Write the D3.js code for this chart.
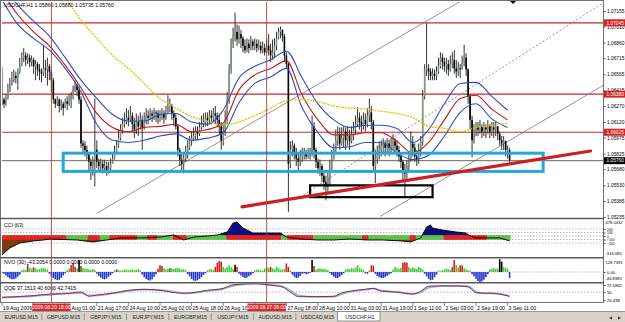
<!DOCTYPE html>
<html>
<head>
<meta charset="utf-8">
<script src="https://cdn.jsdelivr.net/npm/d3@7"></script>
<style>
  body { margin: 0; background: #fff; }
  svg { display: block; }
  text { font-family: "Liberation Sans", Arial, sans-serif; }
</style>
</head>
<body>
<svg id="chart" width="625" height="322"></svg>
<script>
// ---- price bars (H1, USDCHF), index 0 = 19 Aug 17:00 ----
const firstOpen = 1.0630;
const closes = [
  1.0633,1.0629,1.0634,1.0642,1.0648,1.0651,1.0655,1.0653,1.0659,1.0664,
  1.0672,1.0674,1.0670,1.0672,1.0668,1.0670,1.0664,1.0666,1.0661,1.0659,
  1.0657,1.0662,1.0661,1.0664,1.0659,1.0651,1.0633,1.0629,1.0633,1.0627,
  1.0629,1.0625,1.0631,1.0629,1.0633,1.0636,1.0642,1.0646,1.0642,1.0633,
  1.0592,1.0590,1.0586,1.0582,1.0575,1.0571,1.0577,1.0586,1.0575,1.0571,
  1.0573,1.0569,1.0571,1.0567,1.0569,1.0573,1.0578,1.0584,1.0590,1.0597,
  1.0605,1.0610,1.0612,1.0616,1.0614,1.0618,1.0610,1.0605,1.0612,1.0608,
  1.0614,1.0607,1.0612,1.0618,1.0616,1.0620,1.0618,1.0621,1.0620,1.0616,
  1.0618,1.0620,1.0616,1.0621,1.0625,1.0627,1.0620,1.0616,1.0608,1.0586,
  1.0577,1.0573,1.0578,1.0582,1.0588,1.0594,1.0597,1.0599,1.0603,1.0601,
  1.0607,1.0610,1.0612,1.0616,1.0614,1.0618,1.0616,1.0620,1.0618,1.0614,
  1.0608,1.0595,1.0603,1.0614,1.0633,1.0661,1.0685,1.0692,1.0696,1.0689,
  1.0694,1.0690,1.0683,1.0679,1.0685,1.0681,1.0687,1.0683,1.0685,1.0681,
  1.0683,1.0679,1.0681,1.0677,1.0683,1.0679,1.0674,1.0677,1.0683,1.0690,
  1.0696,1.0698,1.0692,1.0674,1.0666,1.0573,1.0586,1.0590,1.0584,1.0578,
  1.0575,1.0580,1.0582,1.0584,1.0580,1.0584,1.0582,1.0608,1.0586,1.0575,
  1.0569,1.0571,1.0562,1.0556,1.0552,1.0560,1.0569,1.0578,1.0586,1.0595,
  1.0601,1.0592,1.0597,1.0603,1.0595,1.0599,1.0594,1.0601,1.0605,1.0610,
  1.0616,1.0612,1.0608,1.0614,1.0610,1.0618,1.0621,1.0612,1.0571,1.0578,
  1.0582,1.0586,1.0590,1.0592,1.0588,1.0592,1.0588,1.0590,1.0594,1.0590,
  1.0586,1.0580,1.0575,1.0567,1.0564,1.0571,1.0577,1.0592,1.0588,1.0580,
  1.0577,1.0586,1.0594,1.0636,1.0661,1.0662,1.0659,1.0655,1.0657,1.0655,
  1.0659,1.0664,1.0672,1.0668,1.0664,1.0666,1.0661,1.0666,1.0670,1.0662,
  1.0659,1.0662,1.0661,1.0668,1.0672,1.0661,1.0636,1.0614,1.0595,1.0603,
  1.0607,1.0605,1.0608,1.0603,1.0607,1.0605,1.0608,1.0603,1.0607,1.0605,
  1.0608,1.0601,1.0595,1.0592,1.0594,1.0586,1.0586,1.0576
];
const highs = [
  1.0663,1.0635,1.0638,1.0648,1.0653,1.0659,1.0661,1.0659,1.0662,1.0672,
  1.0677,1.0681,1.0677,1.0676,1.0675,1.0674,1.0672,1.0670,1.0668,1.0666,
  1.0662,1.0684,1.0670,1.0672,1.0666,1.0661,1.0653,1.0634,1.0636,1.0634,
  1.0633,1.0631,1.0634,1.0636,1.0638,1.0640,1.0646,1.0651,1.0648,1.0646,
  1.0636,1.0595,1.0594,1.0590,1.0584,1.0578,1.0580,1.0634,1.0595,1.0578,
  1.0578,1.0577,1.0577,1.0575,1.0575,1.0578,1.0584,1.0590,1.0595,1.0605,
  1.0610,1.0616,1.0621,1.0625,1.0623,1.0627,1.0621,1.0616,1.0620,1.0618,
  1.0621,1.0618,1.0621,1.0625,1.0623,1.0625,1.0623,1.0625,1.0623,1.0623,
  1.0623,1.0625,1.0623,1.0627,1.0637,1.0634,1.0629,1.0623,1.0620,1.0610,
  1.0588,1.0582,1.0584,1.0590,1.0595,1.0599,1.0603,1.0607,1.0608,1.0608,
  1.0612,1.0618,1.0620,1.0621,1.0621,1.0623,1.0623,1.0625,1.0627,1.0621,
  1.0620,1.0612,1.0610,1.0623,1.0640,1.0666,1.0690,1.0700,1.0714,1.0703,
  1.0702,1.0698,1.0692,1.0689,1.0690,1.0689,1.0692,1.0689,1.0690,1.0689,
  1.0689,1.0687,1.0687,1.0685,1.0689,1.0694,1.0685,1.0689,1.0690,1.0696,
  1.0700,1.0701,1.0698,1.0694,1.0677,1.0668,1.0594,1.0595,1.0592,1.0588,
  1.0584,1.0586,1.0588,1.0588,1.0586,1.0588,1.0588,1.0618,1.0612,1.0588,
  1.0578,1.0577,1.0573,1.0566,1.0562,1.0566,1.0577,1.0586,1.0592,1.0605,
  1.0608,1.0607,1.0607,1.0608,1.0607,1.0608,1.0605,1.0608,1.0612,1.0618,
  1.0626,1.0621,1.0618,1.0621,1.0620,1.0625,1.0634,1.0627,1.0614,1.0586,
  1.0590,1.0594,1.0595,1.0597,1.0595,1.0597,1.0595,1.0597,1.0601,1.0597,
  1.0595,1.0590,1.0584,1.0577,1.0573,1.0577,1.0584,1.0603,1.0599,1.0592,
  1.0586,1.0592,1.0599,1.0642,1.0666,1.0704,1.0666,1.0662,1.0662,1.0661,
  1.0664,1.0672,1.0677,1.0676,1.0672,1.0672,1.0670,1.0674,1.0677,1.0679,
  1.0670,1.0668,1.0666,1.0674,1.0684,1.0676,1.0662,1.0638,1.0618,1.0610,
  1.0612,1.0612,1.0614,1.0610,1.0612,1.0610,1.0614,1.0610,1.0612,1.0612,
  1.0612,1.0608,1.0603,1.0599,1.0599,1.0595,1.0590,1.0588
];
const lows = [
  1.0628,1.0625,1.0627,1.0633,1.0640,1.0646,1.0649,1.0648,1.0642,1.0657,
  1.0664,1.0668,1.0664,1.0666,1.0663,1.0664,1.0657,1.0651,1.0655,1.0651,
  1.0649,1.0655,1.0653,1.0646,1.0651,1.0640,1.0629,1.0625,1.0627,1.0621,
  1.0623,1.0618,1.0625,1.0623,1.0627,1.0625,1.0633,1.0640,1.0636,1.0629,
  1.0588,1.0584,1.0580,1.0577,1.0566,1.0558,1.0562,1.0552,1.0569,1.0567,
  1.0567,1.0564,1.0566,1.0562,1.0564,1.0567,1.0573,1.0577,1.0584,1.0588,
  1.0595,1.0601,1.0607,1.0610,1.0608,1.0612,1.0603,1.0597,1.0601,1.0599,
  1.0605,1.0586,1.0605,1.0610,1.0610,1.0614,1.0612,1.0614,1.0612,1.0610,
  1.0612,1.0614,1.0610,1.0614,1.0620,1.0621,1.0614,1.0608,1.0605,1.0580,
  1.0571,1.0567,1.0564,1.0575,1.0578,1.0586,1.0590,1.0594,1.0595,1.0595,
  1.0599,1.0605,1.0607,1.0608,1.0608,1.0610,1.0610,1.0612,1.0610,1.0607,
  1.0601,1.0586,1.0590,1.0599,1.0610,1.0629,1.0657,1.0681,1.0687,1.0683,
  1.0685,1.0681,1.0677,1.0676,1.0677,1.0676,1.0679,1.0679,1.0679,1.0677,
  1.0679,1.0676,1.0676,1.0674,1.0676,1.0674,1.0668,1.0670,1.0672,1.0679,
  1.0689,1.0690,1.0687,1.0668,1.0662,1.0528,1.0569,1.0580,1.0577,1.0571,
  1.0566,1.0571,1.0575,1.0577,1.0577,1.0578,1.0577,1.0580,1.0578,1.0569,
  1.0564,1.0562,1.0556,1.0549,1.0539,1.0547,1.0552,1.0567,1.0577,1.0584,
  1.0590,1.0586,1.0590,1.0588,1.0586,1.0590,1.0586,1.0592,1.0595,1.0601,
  1.0608,1.0605,1.0603,1.0605,1.0603,1.0607,1.0612,1.0605,1.0566,1.0555,
  1.0573,1.0577,1.0580,1.0584,1.0580,1.0584,1.0580,1.0582,1.0586,1.0584,
  1.0580,1.0575,1.0569,1.0558,1.0542,1.0558,1.0567,1.0575,1.0580,1.0575,
  1.0571,1.0573,1.0580,1.0590,1.0633,1.0655,1.0651,1.0651,1.0651,1.0651,
  1.0651,1.0657,1.0662,1.0661,1.0659,1.0657,1.0655,1.0659,1.0662,1.0657,
  1.0653,1.0655,1.0653,1.0661,1.0664,1.0655,1.0629,1.0605,1.0579,1.0592,
  1.0599,1.0599,1.0601,1.0597,1.0599,1.0597,1.0601,1.0597,1.0599,1.0597,
  1.0599,1.0595,1.0590,1.0586,1.0586,1.0580,1.0578,1.05735
];

// ---- moving averages, sampled every 8 bars ----
const maIdx = [0,8,16,24,32,40,48,56,64,72,80,88,96,104,112,120,128,136,144,152,160,168,176,184,192,200,208,216,224,232,240,248,256];
const maUpper = [1.0740,1.0721,1.0706,1.0692,1.0672,1.0651,1.0634,1.0619,1.0613,1.0613,1.0619,1.0620,1.0612,1.0610,1.0623,1.0653,1.0664,1.0670,1.0678,1.0653,1.0629,1.0614,1.0607,1.0609,1.0609,1.0606,1.0593,1.0605,1.0629,1.0648,1.0649,1.0636,1.0623];
const maMid = [1.0733,1.0712,1.0696,1.0683,1.0665,1.0644,1.0620,1.0607,1.0603,1.0607,1.0608,1.0610,1.0603,1.0605,1.0611,1.0642,1.0656,1.0662,1.0669,1.0637,1.0614,1.0600,1.0600,1.0602,1.0602,1.0594,1.0583,1.0593,1.0614,1.0634,1.0637,1.0624,1.0614];
const maLower = [1.0726,1.0703,1.0690,1.0679,1.0662,1.0640,1.0610,1.0595,1.0593,1.0595,1.0599,1.0601,1.0595,1.0597,1.0602,1.0630,1.0648,1.0654,1.0662,1.0625,1.0602,1.0588,1.0589,1.0593,1.0593,1.0583,1.0577,1.0581,1.0599,1.0621,1.0629,1.0615,1.0607];
const maSlow = [null,null,null,null,1.0728,1.0707,1.0690,1.0674,1.0662,1.0648,1.0634,1.0625,1.0617,1.0613,1.0609,1.0612,1.0618,1.0625,1.0632,1.0633,1.0631,1.0627,1.0625,1.0624,1.0622,1.0620,1.0616,1.0608,1.0606,1.0603,1.0607,1.0609,1.0611];

// ---- price axis, levels and drawn objects ----
const priceTicks = [1.07155,1.07010,1.06860,1.06715,1.06565,1.06415,1.06270,1.06120,1.05975,1.05825,1.05680,1.05530,1.05385,1.05235];
const redLevels = [1.07045, 1.06380, 1.06025];
const lastPrice = 1.05760;
const vLines = [25, 134];
const vLineLabels = ["2009.08.20 18:00", "2009.08.27 06:00"];
const cyanBox = { i1: 31, i2: 274, p1: 1.0583, p2: 1.0566 };
const blackBox = { i1: 156, i2: 218, p1: 1.0553, p2: 1.0542 };
const redTrend = { i1: 121.5, p1: 1.0533, i2: 298, p2: 1.0585 };
const channelLines = [
  { i1: 48, p1: 1.0527, i2: 233.5, p2: 1.0726, dash: null },
  { i1: 191.4, p1: 1.0524, i2: 304.3, p2: 1.0646, dash: null },
  { i1: 151, p1: 1.0542, i2: 304.3, p2: 1.0723, dash: "2,2" }
];

// ---- time axis: only the parts not covered by the red date boxes are shown ----
const timeIdx = [0,16,32,48,64,80,96,112,128,144,160,176,192,208,224,240,256];
const timeLabels = ["19 Aug 2009","","Aug 01:00","21 Aug 17:00","24 Aug 10:00","25 Aug 02:00","25 Aug 18:00","26 Aug 10","","27 Aug 18:00","28 Aug 10:00","31 Aug 03:00","31 Aug 19:00","1 Sep 11:00","2 Sep 03:00","2 Sep 19:00","3 Sep 11:00"];

// ---- CCI (63) ----
const cciIdx = [0,4,9,16,21,24,38,46,53,60,70,80,87,92,97,104,109,114,117,119,122,127,134,141,144,151,160,168,176,185,193,202,207,212,215,217,218,223,230,235,237,240,247,252,257];
const cciVal = [-540,-340,-200,-140,-115,-85,-115,-170,-115,-55,-55,-30,30,-115,-30,0,30,115,370,400,230,85,85,85,-30,-85,-115,-115,-85,-115,-115,-140,-170,-55,255,315,230,170,115,85,0,-55,-55,-55,-140];
const cciLevels = [200, 100, 0, -100, -200];
const cciRange = ["478.5432", "-316.085"];
const stripStart = [0,33,44,50,55,69,74,79,87,94,114,142,145,158,183,186,207,210,224,246];
const stripColor = ["r","g","r","g","r","g","r","g","r","g","r","g","r","g","r","g","r","g","r","g"];

// ---- NVO (30) histogram, one value per bar ----
const nvo = [
  -10,-20,-40,-60,-75,-85,-85,-75,-55,-30, 20,30,25,95,50,40,55,45,30,35,
  45,50,40,30,-20,-50,-70,-85,-95,-90, -70,-40,-15,25,40,80,105,60,45,140,
  70,45,35,40,30,25,35,20,-20,-45, -65,-80,-85,-75,-55,-35,-15,20,30,25,
  15,20,30,25,20,25,30,20,25,35, 20,-30,-60,-80,-95,-100,-85,-55,-25,40,
  80,70,45,30,35,45,40,35,45,50, 40,30,35,20,-25,-50,-80,-100,-105,-95,
  -80,-60,-35,-15,20,30,35,25,60,110, 130,120,60,40,60,80,55,35,85,60,
  -20,-40,-60,-70,-65,-50,-35,-15,20,25, 30,20,15,40,55,50,60,45,35,60,
  45,30,25,40,100,60,20,-30,-55,-70, -65,-45,-20,-15,-25,-20,-10,140,70,30,
  40,45,35,40,30,25,-15,-35,-55,-70, -70,-55,-35,-15,30,40,35,45,40,55,
  80,50,35,25,-15,-20,20,80,75,-20, -45,-60,-70,-70,-60,-45,-30,-15,30,60,
  45,35,50,110,115,110,60,40,55,45, 35,60,45,30,-20,-50,-80,-95,-90,-60,
  -30,15,10,20,30,40,35,25,60,140, 80,50,80,75,45,30,20,15,-25,-50,
  -80,-105,-117,-110,-90,-60,-25,30,40,45, 35,40,150,120,60,45,35,-70
];
const nvoRed = [13,35,36,58,79,80,108,109,110,111,119,136,144,145,158,187,188,203,204,205,228,229,232,233];
const nvoBrown = [16,37,40,81,85];
const nvoBlack = [39,118,157,252,253];
const nvoRange = ["128.7391", "-46.8385"];

// ---- QQE ----
const qqeIdx = [0,8,16,24,32,40,44,48,56,64,72,80,88,92,96,104,112,116,120,128,136,142,146,150,160,168,172,176,184,188,192,200,208,212,216,224,232,236,240,244,248,252,257];
const qqeRed = [34,36,39,44,45,51,37,41,47,56,59,56,48,47,48,56,62,72,75,77,72,66,50,36,36,37,48,53,59,62,53,50,44,53,69,70,69,67,48,47,47,44,37];
const qqeBlue = [33,35,38,42,46,47,40,40,46,54,58,57,50,46,47,54,60,68,73,76,73,68,55,40,35,36,44,51,58,61,56,51,45,50,64,70,70,68,52,46,46,45,38];
const qqeLabels = [72.5862, 50, 25.498];

const tabNames = ["EURUSD,M15","GBPUSD,M15","GBPJPY,M15","EURJPY,M15","EURGBP,M15","USDJPY,M15","AUDUSD,M15","USDCAD,M15","USDCHF,H1"];

// ================= drawing =================
let svg = d3.select("#chart");
let font = "Liberation Sans, Arial, sans-serif";

let x = d3.scaleLinear().domain([0, 256]).range([2, 507.6]);
let yMain = d3.scaleLinear().domain([1.05235, 1.07155]).range([217, 11]);
let yCci = d3.scaleLinear().domain([-200, 200]).range([243, 229]);
let yNvo = d3.scaleLinear().domain([0, 128.7391]).range([272, 261]);
let yQqe = d3.scaleLinear().domain([25.498, 72.5862]).range([300, 285]);

let defs = svg.append("defs");
let addClip = (id, y0, y1) => {
  defs.append("clipPath").attr("id", id)
      .append("rect").attr("x", 2).attr("y", y0)
      .attr("width", 601).attr("height", y1 - y0);
};
addClip("clip-main", 2, 218);
addClip("clip-cci", 219.5, 257);
addClip("clip-cci-pos", 219.5, yCci(0));
addClip("clip-cci-neg", yCci(0), 257);
addClip("clip-nvo", 258.5, 282);
addClip("clip-qqe", 283.5, 302);

svg.append("rect").attr("width", 625).attr("height", 322).attr("fill", "#fff");

// ---------- main panel ----------
let main = svg.append("g").attr("clip-path", "url(#clip-main)");

main.selectAll(".level").data(redLevels).enter().append("line")
    .attr("x1", 2).attr("x2", 603)
    .attr("y1", d => yMain(d)).attr("y2", d => yMain(d))
    .attr("stroke", "#c42a2a").attr("stroke-width", 1.2);

main.selectAll(".chan").data(channelLines).enter().append("line")
    .attr("x1", d => x(d.i1)).attr("y1", d => yMain(d.p1))
    .attr("x2", d => x(d.i2)).attr("y2", d => yMain(d.p2))
    .attr("stroke", "#7a7a7a").attr("stroke-width", 0.8)
    .attr("stroke-dasharray", d => d.dash);

let bars = closes.map((c, i) => ({
  i: i, open: i ? closes[i - 1] : firstOpen, close: c, high: highs[i], low: lows[i]
}));

main.selectAll(".wick").data(bars).enter().append("line")
    .attr("x1", d => x(d.i)).attr("x2", d => x(d.i))
    .attr("y1", d => yMain(Math.max(d.high, d.open, d.close)))
    .attr("y2", d => yMain(Math.min(d.low, d.open, d.close)))
    .attr("stroke", "#1c1c1c").attr("stroke-width", 0.9);

main.selectAll(".body").data(bars).enter().append("rect")
    .attr("x", d => x(d.i) - 0.8).attr("width", 1.6)
    .attr("y", d => yMain(Math.max(d.open, d.close)))
    .attr("height", d => Math.max(0.8, Math.abs(yMain(d.open) - yMain(d.close))))
    .attr("fill", d => d.close >= d.open ? "#7f967f" : "#000");

let maLine = d3.line()
    .defined(d => d[1] !== null)
    .x(d => x(d[0])).y(d => yMain(d[1]))
    .curve(d3.curveMonotoneX);

let drawMa = (values, color, width, dash) => {
  main.append("path")
      .attr("d", maLine(d3.zip(maIdx, values)))
      .attr("fill", "none").attr("stroke", color)
      .attr("stroke-width", width).attr("stroke-dasharray", dash);
};
drawMa(maUpper, "#2f4fc0", 1.1, null);
drawMa(maLower, "#2f4fc0", 1.1, null);
drawMa(maMid, "#c01a1a", 1.1, null);
drawMa(maSlow, "#e0c400", 1.3, "2,1");

main.append("line")
    .attr("x1", 2).attr("x2", 603)
    .attr("y1", yMain(lastPrice)).attr("y2", yMain(lastPrice))
    .attr("stroke", "#444").attr("stroke-width", 0.8);

let drawBox = (box, color, width) => {
  main.append("rect")
      .attr("x", x(box.i1)).attr("y", yMain(box.p1))
      .attr("width", x(box.i2) - x(box.i1))
      .attr("height", yMain(box.p2) - yMain(box.p1))
      .attr("fill", "none").attr("stroke", color).attr("stroke-width", width);
};
drawBox(cyanBox, "#27a6dc", 3);
drawBox(blackBox, "#000", 2.2);

main.append("line")
    .attr("x1", x(redTrend.i1)).attr("y1", yMain(redTrend.p1))
    .attr("x2", x(redTrend.i2)).attr("y2", yMain(redTrend.p2))
    .attr("stroke", "#cc1f24").attr("stroke-width", 3.2).attr("stroke-linecap", "round");

// chart shift marker
svg.append("path").attr("d", "M510,1 L516,1 L513,4 Z").attr("fill", "#000");

svg.append("text").attr("x", 4).attr("y", 7)
   .attr("font-size", 5.2).attr("fill", "#000")
   .text("USDCHF,H1  1.05860 1.05880 1.05735 1.05760");

// ---------- CCI panel ----------
let cci = svg.append("g").attr("clip-path", "url(#clip-cci)");
let cciPts = d3.zip(cciIdx, cciVal);

cci.selectAll(".lvl").data(cciLevels).enter().append("line")
   .attr("x1", 2).attr("x2", 603)
   .attr("y1", d => yCci(d)).attr("y2", d => yCci(d))
   .attr("stroke", "#8a8a8a").attr("stroke-width", 0.6).attr("stroke-dasharray", "1.5,1.5");

let cciArea = d3.area().x(d => x(d[0])).y0(yCci(0)).y1(d => yCci(d[1]));
cci.append("path").attr("d", cciArea(cciPts)).attr("fill", "#0c0c80")
   .attr("clip-path", "url(#clip-cci-pos)");
cci.append("path").attr("d", cciArea(cciPts)).attr("fill", "#7b3a14")
   .attr("clip-path", "url(#clip-cci-neg)");

let stripEnd = stripStart.slice(1).concat([closes.length]);
cci.selectAll(".strip").data(stripStart).enter().append("rect")
   .attr("x", (d, k) => x(d) - 1)
   .attr("width", (d, k) => x(stripEnd[k]) - x(d))
   .attr("y", yCci(25)).attr("height", yCci(-110) - yCci(25))
   .attr("fill", (d, k) => stripColor[k] === "r" ? "#e0261e" : "#5cc24a");

cci.append("path")
   .attr("d", d3.line().x(d => x(d[0])).y(d => yCci(d[1]))(cciPts))
   .attr("fill", "none").attr("stroke", "#000").attr("stroke-width", 0.9);

svg.append("text").attr("x", 4).attr("y", 227).attr("font-size", 5.2).text("CCI (63)");

// ---------- NVO panel ----------
let nvoG = svg.append("g").attr("clip-path", "url(#clip-nvo)");
nvoG.append("line").attr("x1", 2).attr("x2", 603)
    .attr("y1", yNvo(0)).attr("y2", yNvo(0))
    .attr("stroke", "#8a8a8a").attr("stroke-width", 0.6).attr("stroke-dasharray", "1.5,1.5");

let nvoColor = (v, i) => {
  if (v < 0) return "#2536cc";
  if (nvoBlack.includes(i)) return "#000";
  if (nvoRed.includes(i)) return "#d62020";
  if (nvoBrown.includes(i)) return "#8b4a1e";
  return "#4ccc3c";
};
nvoG.selectAll(".hbar").data(nvo).enter().append("rect")
    .attr("x", (d, i) => x(i) - 0.8).attr("width", 1.6)
    .attr("y", d => Math.min(yNvo(0), yNvo(d)))
    .attr("height", d => Math.abs(yNvo(d) - yNvo(0)))
    .attr("fill", (d, i) => nvoColor(d, i));

svg.append("text").attr("x", 4).attr("y", 264).attr("font-size", 5.2)
   .text("NVO (30) -43.2054 0.0000 0.0000 0.0000 0.0000");

// ---------- QQE panel ----------
let qqe = svg.append("g").attr("clip-path", "url(#clip-qqe)");
qqe.append("line").attr("x1", 2).attr("x2", 603)
   .attr("y1", yQqe(50)).attr("y2", yQqe(50))
   .attr("stroke", "#8a8a8a").attr("stroke-width", 0.6).attr("stroke-dasharray", "1.5,1.5");

let qqeLine = d3.line().x(d => x(d[0])).y(d => yQqe(d[1])).curve(d3.curveMonotoneX);
qqe.append("path").attr("d", qqeLine(d3.zip(qqeIdx, qqeBlue)))
   .attr("fill", "none").attr("stroke", "#7fb9e6").attr("stroke-width", 1.8);
qqe.append("path").attr("d", qqeLine(d3.zip(qqeIdx, qqeRed)))
   .attr("fill", "none").attr("stroke", "#a8141c").attr("stroke-width", 0.9);

svg.append("text").attr("x", 4).attr("y", 289.5).attr("font-size", 5.2)
   .text("QQE  37.1513 40.6066 42.7415");

// ---------- vertical lines ----------
svg.selectAll(".vline").data(vLines).enter().append("line")
   .attr("x1", d => x(d)).attr("x2", d => x(d))
   .attr("y1", 2).attr("y2", 303)
   .attr("stroke", "#a8403c").attr("stroke-width", 0.9);

// ---------- frames and separators ----------
svg.append("rect").attr("x", 0.5).attr("y", 0.5).attr("width", 603).attr("height", 302)
   .attr("fill", "none").attr("stroke", "#707070").attr("stroke-width", 1);
svg.selectAll(".sep").data([218.5, 257.8, 282.8]).enter().append("line")
   .attr("x1", 0).attr("x2", 604).attr("y1", d => d).attr("y2", d => d)
   .attr("stroke", "#5a5a5a").attr("stroke-width", 1.6);

// ---------- right axes ----------
let styleAxis = size => g => {
  g.select(".domain").remove();
  g.attr("font-size", size).attr("font-family", font);
  g.selectAll("line").attr("stroke", "#555");
};
svg.append("g").attr("transform", "translate(603.5,0)")
   .call(d3.axisRight(yMain).tickValues(priceTicks).tickFormat(d3.format(".5f")).tickSize(2).tickPadding(1.5))
   .call(styleAxis(4.8));
svg.append("g").attr("transform", "translate(603.5,0)")
   .call(d3.axisRight(yCci).tickValues(cciLevels).tickFormat(d3.format("d")).tickSize(2).tickPadding(1.5))
   .call(styleAxis(3.4));
svg.append("g").attr("transform", "translate(603.5,0)")
   .call(d3.axisRight(yNvo).tickValues([0]).tickFormat(d3.format(".2f")).tickSize(2).tickPadding(1.5))
   .call(styleAxis(4.2));
svg.append("g").attr("transform", "translate(603.5,0)")
   .call(d3.axisRight(yQqe).tickValues(qqeLabels).tickFormat(d => String(d)).tickSize(2).tickPadding(1.5))
   .call(styleAxis(4.2));

// window range labels (top / bottom of each indicator window)
let rangeLabel = (txt, y) => {
  svg.append("text").attr("x", 605.5).attr("y", y).attr("font-size", 4.1)
     .attr("fill", "#000").text(txt);
};
rangeLabel(cciRange[0], 223.5);
rangeLabel(cciRange[1], 254.5);
rangeLabel(nvoRange[0], 263.5);
rangeLabel(nvoRange[1], 279.5);

// level boxes on price axis
let levelBox = (price, fill) => {
  let g = svg.append("g").attr("transform", `translate(604,${yMain(price)})`);
  g.append("rect").attr("x", 0).attr("y", -3.5).attr("width", 21).attr("height", 7).attr("fill", fill);
  g.append("text").attr("x", 2.5).attr("y", 1.8).attr("font-size", 4.8)
   .attr("fill", "#fff").text(d3.format(".5f")(price));
};
redLevels.forEach(p => levelBox(p, "#d42424"));
levelBox(lastPrice, "#000");

// ---------- time axis ----------
let boxHalf = 19.2;
let boxRight = vLines.map(v => x(v) + boxHalf);
let labelX = d => {
  let lx = x(d) + 1;
  boxRight.forEach((r, k) => { if (lx > x(vLines[k]) - boxHalf && lx < r) lx = r + 1; });
  return lx;
};
let tAxis = svg.append("g");
tAxis.selectAll(".tick").data(timeIdx).enter().append("line")
     .attr("x1", d => x(d)).attr("x2", d => x(d))
     .attr("y1", 303).attr("y2", 306).attr("stroke", "#555").attr("stroke-width", 0.7);
tAxis.selectAll(".tlabel").data(timeIdx).enter().append("text")
     .attr("x", labelX).attr("y", 309.5)
     .attr("font-size", 5.2).attr("fill", "#000")
     .text((d, k) => timeLabels[k]);
vLines.forEach((idx, k) => {
  let cx = x(idx);
  tAxis.append("rect").attr("x", cx - boxHalf).attr("y", 303.5).attr("width", boxHalf * 2).attr("height", 7.5)
       .attr("fill", "#d62a2a");
  tAxis.append("text").attr("x", cx).attr("y", 309.3).attr("text-anchor", "middle")
       .attr("font-size", 5).attr("fill", "#fff").text(vLineLabels[k]);
});

// ---------- symbol tabs ----------
let tabs = svg.append("g");
tabs.append("rect").attr("x", 0).attr("y", 311.5).attr("width", 625).attr("height", 10.5).attr("fill", "#d8d4cc");
tabs.append("line").attr("x1", 0).attr("x2", 625).attr("y1", 311.5).attr("y2", 311.5).attr("stroke", "#9a9a9a");
let tabX = d3.scaleBand().domain(tabNames).range([0, 381]);
tabs.append("rect").attr("x", tabX("USDCHF,H1") - 1).attr("y", 311.5)
    .attr("width", tabX.bandwidth()).attr("height", 9.5)
    .attr("fill", "#fff").attr("stroke", "#7a7a7a").attr("stroke-width", 0.8);
tabs.selectAll(".tab").data(tabNames).enter().append("text")
    .attr("x", d => tabX(d) + tabX.bandwidth() / 2).attr("y", 318.8)
    .attr("text-anchor", "middle").attr("font-size", 5.2).attr("fill", "#222")
    .text(d => d);
tabs.selectAll(".tabsep").data(tabNames.slice(1, -1)).enter().append("line")
    .attr("x1", d => tabX(d) - 0.5).attr("x2", d => tabX(d) - 0.5)
    .attr("y1", 313.5).attr("y2", 320).attr("stroke", "#777").attr("stroke-width", 0.7);
tabs.append("path").attr("d", "M612,316.5 L609,318 L612,319.5 Z").attr("fill", "#333");
tabs.append("path").attr("d", "M618,316.5 L621,318 L618,319.5 Z").attr("fill", "#333");
</script>
</body>
</html>
